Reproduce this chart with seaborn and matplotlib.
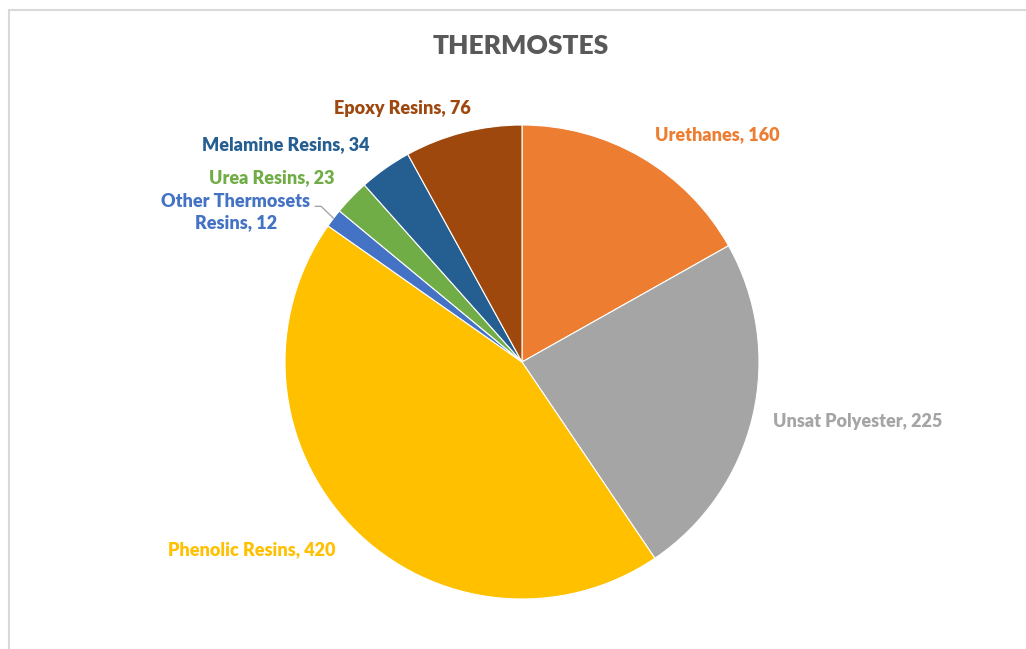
import matplotlib
matplotlib.use("Agg")
import matplotlib.pyplot as plt
import seaborn as sns
import numpy as np
from matplotlib.patches import Rectangle

# data
categories = ["Urethanes", "Unsat Polyester", "Phenolic Resins",
              "Other Thermosets\nResins", "Urea Resins", "Melamine Resins", "Epoxy Resins"]
values = [160, 225, 420, 12, 23, 34, 76]
colors = ["#ED7D31", "#A5A5A5", "#FFC000", "#4472C4", "#70AD47", "#255E91", "#9E480E"]

# label placement (axes data units, pie radius = 1)
label_pos = [(0.823, 0.958), (1.418, -0.253), (-1.139, -0.793), (-1.207, 0.633),
             (-1.055, 0.776), (-0.996, 0.916), (-0.506, 1.068)]

sns.set_theme(style="white")
plt.rcParams['font.family'] = ['Lato', 'DejaVu Sans']

fig = plt.figure(figsize=(10.26, 6.49), dpi=100)
W, H = 1026, 649
cx, cy, r = 522, 362, 237
ax = fig.add_axes([(cx - r) / W, (H - cy - r) / H, 2 * r / W, 2 * r / H])

palette = sns.color_palette(colors)
wedges, _ = ax.pie(values, colors=palette, startangle=90, counterclock=False,
                   radius=1, wedgeprops=dict(edgecolor="white", linewidth=0.8))
ax.set_xlim(-1, 1)
ax.set_ylim(-1, 1)
ax.axis("off")

for cat, val, col, (lx, ly) in zip(categories, values, colors, label_pos):
    ax.text(lx, ly, f"{cat}, {val}", color=col, fontsize=13, fontweight="heavy",
            ha="center", va="center", linespacing=1.35, clip_on=False)

# leader line for the small slice
w = wedges[3]
mid = np.deg2rad((w.theta1 + w.theta2) / 2)
ex, ey = np.cos(mid), np.sin(mid)
ax.plot([-0.873, -0.848, ex], [0.657, 0.657, ey], color="#A6A6A6", lw=1, clip_on=False)

fig.text(521 / W, 1 - 46 / H, "THERMOSTES", color="#595959", fontsize=19,
         fontweight="heavy", ha="center", va="center")

# chart frame
fig.patches.append(Rectangle((8.5 / W, -0.1), 1.2, 1 - 9.5 / H + 0.1, transform=fig.transFigure,
                             fill=False, edgecolor="#D9D9D9", linewidth=1.5))

fig.savefig("out.png", dpi=100)
